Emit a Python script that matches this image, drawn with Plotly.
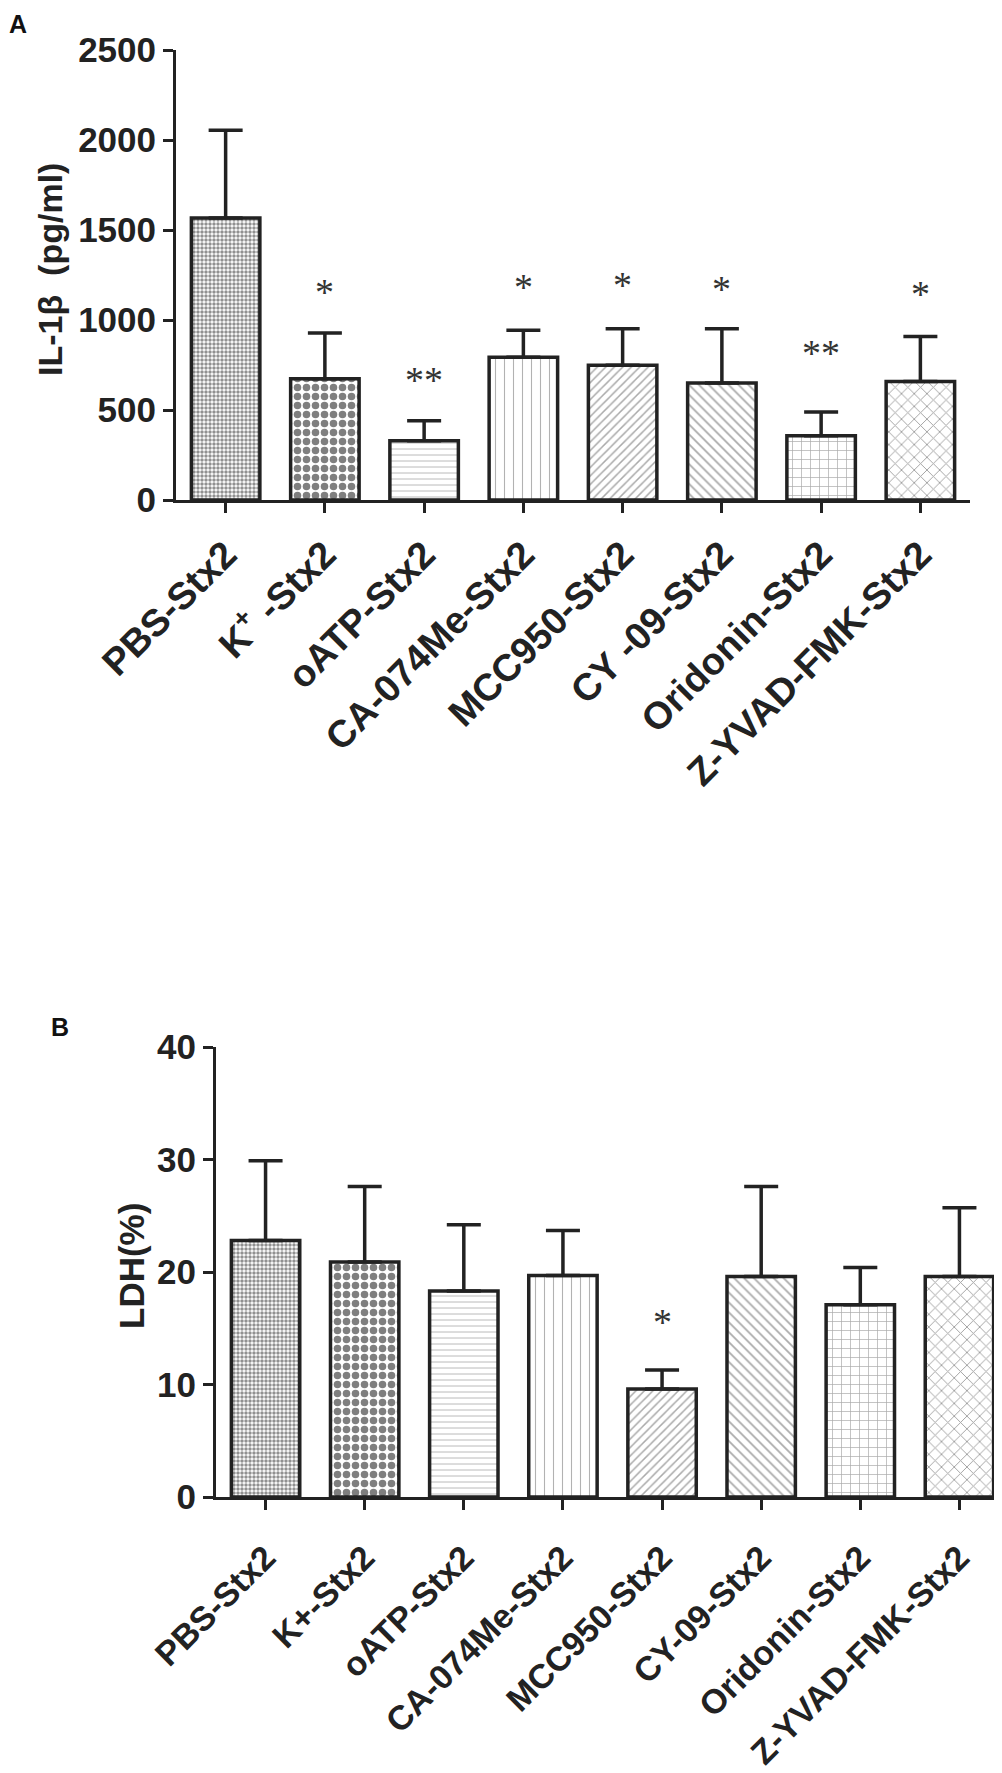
import plotly.graph_objects as go

# group names (x categories)
groups_a = ["PBS-Stx2", "K<sup>+</sup> -Stx2", "oATP-Stx2", "CA-074Me-Stx2",
            "MCC950-Stx2", "CY -09-Stx2", "Oridonin-Stx2", "Z-YVAD-FMK-Stx2"]
groups_b = ["PBS-Stx2", "K+-Stx2", "oATP-Stx2", "CA-074Me-Stx2",
            "MCC950-Stx2", "CY-09-Stx2", "Oridonin-Stx2", "Z-YVAD-FMK-Stx2"]

# panel A: IL-1beta (pg/ml), mean and upper SD
il1b_mean = [1567, 674, 329, 793, 748, 650, 357, 659]
il1b_sd = [487, 254, 111, 150, 204, 302, 132, 250]
il1b_sig = ["", "*", "**", "*", "*", "*", "**", "*"]
il1b_sig_y = [None, 1122, 633, 1150, 1161, 1139, 783, 1113]

# panel B: LDH release (%)
ldh_mean = [22.8, 20.9, 18.3, 19.7, 9.6, 19.6, 17.1, 19.6]
ldh_sd = [7.1, 6.7, 5.9, 4.0, 1.7, 8.0, 3.3, 6.1]
ldh_sig = ["", "", "", "", "*", "", "", ""]
ldh_sig_y = [None, None, None, None, 15.05, None, None, None]

W, H = 1002, 1773
FONT = "Liberation Sans"

patterns = dict(
    shape=[".", ".", "-", "|", "/", "\\", "+", "x"],
    size=[4, 9, 6, 9, 6, 7, 9, 9],
    solidity=[0.6, 0.55, 0.15, 0.12, 0.25, 0.25, 0.15, 0.2],
    fgcolor=["#222", "#000", "#666", "#666", "#555", "#555", "#555", "#444"],
    bgcolor="white",
)


def px_x(a, b):
    return [a / W, b / W]


def px_y(top, bottom):
    return [1 - bottom / H, 1 - top / H]


fig = go.Figure()

idx = list(range(len(groups_a)))

fig.add_trace(go.Bar(
    x=idx, y=il1b_mean, width=0.69,
    marker=dict(color="white", line=dict(color="#222", width=3.5), pattern=patterns),
    error_y=dict(type="data", symmetric=False, array=il1b_sd, arrayminus=[0] * 8,
                 color="#222", thickness=3.5, width=17),
    xaxis="x", yaxis="y", showlegend=False,
))

fig.add_trace(go.Bar(
    x=idx, y=ldh_mean, width=0.69,
    marker=dict(color="white", line=dict(color="#222", width=3.5), pattern=patterns),
    error_y=dict(type="data", symmetric=False, array=ldh_sd, arrayminus=[0] * 8,
                 color="#222", thickness=3.5, width=17),
    xaxis="x2", yaxis="y2", showlegend=False,
))

axis_common = dict(showline=True, linecolor="#222", linewidth=3, ticks="outside",
                   ticklen=10, tickwidth=3, tickcolor="#222", showgrid=False,
                   zeroline=False, automargin=False)

fig.update_layout(
    width=W, height=H,
    margin=dict(l=0, r=0, t=0, b=0, autoexpand=False),
    plot_bgcolor="white", paper_bgcolor="white",
    xaxis=dict(domain=px_x(168, 962), range=[-0.5, 7.5], tickvals=idx, ticktext=groups_a,
               tickangle=-45, anchor="y", ticklabelstandoff=4,
               tickfont=dict(family=FONT, size=38, color="#222", weight="bold"), **axis_common),
    yaxis=dict(domain=px_y(42, 492), range=[0, 2500], tickvals=[0, 500, 1000, 1500, 2000, 2500],
               anchor="x",
               tickfont=dict(family=FONT, size=35, color="#222", weight="bold"), **axis_common),
    xaxis2=dict(domain=px_x(208, 1001), range=[-0.5, 7.5], tickvals=idx, ticktext=groups_b,
                tickangle=-45, anchor="y2", ticklabelstandoff=14,
                tickfont=dict(family=FONT, size=34, color="#222", weight="bold"), **axis_common),
    yaxis2=dict(domain=px_y(1039, 1489), range=[0, 40], tickvals=[0, 10, 20, 30, 40],
                anchor="x2",
                tickfont=dict(family=FONT, size=35, color="#222", weight="bold"), **axis_common),
)

ann = []
# panel letters
ann.append(dict(text="<b>A</b>", x=10 / W, y=1 - 16 / H, xref="paper", yref="paper",
                xanchor="center", yanchor="middle",
                showarrow=False, font=dict(family=FONT, size=25, color="#111")))
ann.append(dict(text="<b>B</b>", x=52 / W, y=1 - 1019 / H, xref="paper", yref="paper",
                xanchor="center", yanchor="middle",
                showarrow=False, font=dict(family=FONT, size=25, color="#111")))
# axis titles
ann.append(dict(text="<b>IL-1β \u00a0(pg/ml)</b>", x=42 / W, y=1 - 262 / H, xref="paper", yref="paper",
                xanchor="center", yanchor="middle",
                textangle=-90, showarrow=False, font=dict(family=FONT, size=34, color="#222")))
ann.append(dict(text="<b>LDH(%)</b>", x=123 / W, y=1 - 1258 / H, xref="paper", yref="paper",
                xanchor="center", yanchor="middle",
                textangle=-90, showarrow=False, font=dict(family=FONT, size=35, color="#222")))

# significance marks
for i, (s, yv) in enumerate(zip(il1b_sig, il1b_sig_y)):
    if s:
        ann.append(dict(text=s, x=i, y=yv, xref="x", yref="y", showarrow=False, yshift=6,
                        font=dict(family="Liberation Serif", size=38, color="#333")))
for i, (s, yv) in enumerate(zip(ldh_sig, ldh_sig_y)):
    if s:
        ann.append(dict(text=s, x=i, y=yv, xref="x2", yref="y2", showarrow=False, yshift=6,
                        font=dict(family="Liberation Serif", size=38, color="#333")))

fig.update_layout(annotations=ann)

fig.write_html("out.html")
